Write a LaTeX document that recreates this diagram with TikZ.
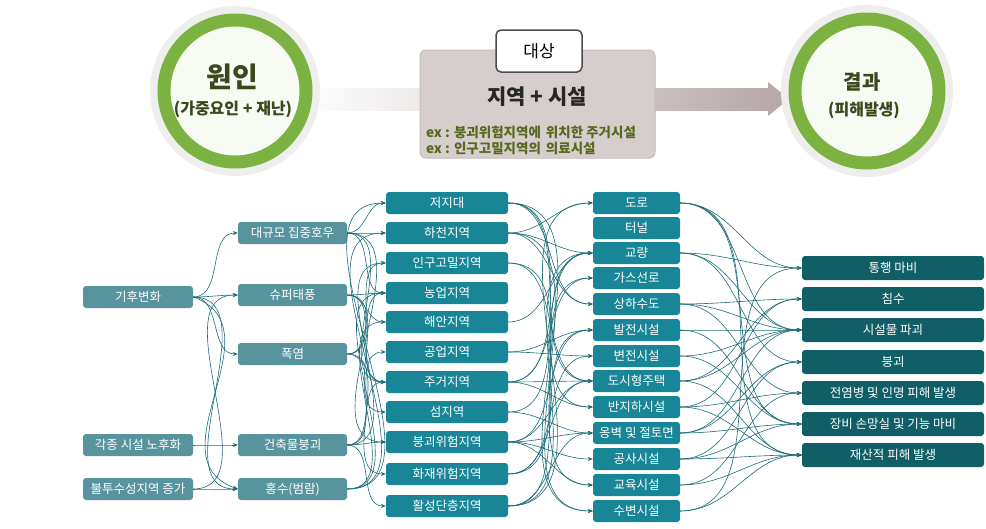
\documentclass[tikz,border=0pt]{standalone}
\usepackage{fontspec}
\setmainfont{Noto Sans CJK KR}
\usetikzlibrary{arrows.meta}
\definecolor{tealA}{RGB}{88,148,158}
\definecolor{tealB}{RGB}{24,134,150}
\definecolor{tealC}{RGB}{16,94,102}
\definecolor{lineC}{RGB}{28,108,118}
\definecolor{greenC}{RGB}{124,178,66}
\definecolor{innerC}{RGB}{248,250,244}
\definecolor{haloC}{RGB}{238,238,236}
\definecolor{olive}{RGB}{58,72,28}
\definecolor{boxC}{RGB}{214,205,205}
\definecolor{boxB}{RGB}{196,186,186}
\definecolor{barC}{RGB}{184,170,170}
\definecolor{exC}{RGB}{88,104,30}
\begin{document}
\begin{tikzpicture}[x=1pt,y=-1pt,
  box/.style={rounded corners=3pt, minimum height=22pt, inner sep=0pt, text=white,
    font=\fontsize{12.5}{14}\selectfont},
  colA/.style={box, fill=tealA, minimum width=110pt},
  colB/.style={box, fill=tealA, minimum width=109pt},
  colC/.style={box, fill=tealB, minimum width=122pt},
  colD/.style={box, fill=tealB, minimum width=87pt},
  colE/.style={box, fill=tealC, minimum width=182pt, minimum height=24pt},
  con/.style={draw=lineC, line width=0.6pt, -{Stealth[length=5pt,width=4pt]}},
  ring/.style={draw=greenC, line width=13pt, fill=innerC}]
\useasboundingbox (0,0) rectangle (986,528);

% ---- top section ----
\shade[left color=white, right color=barC] (300,88) rectangle (768,110);
\fill[barC] (768,82) -- (789,99) -- (768,116) -- cycle;

\fill[haloC] (235,91) circle (85pt);
\draw[ring] (235,91) circle (71pt);
\fill[haloC] (867,91) circle (86pt);
\draw[ring] (867,91) circle (72pt);

\node[font=\fontsize{28}{30}\selectfont\bfseries, text=olive] (cause) at (232,77) {원인};
\node[font=\fontsize{16}{18}\selectfont\bfseries, text=olive] (causesub) at (233,109) {(가중요인 + 재난)};
\node[font=\fontsize{20}{22}\selectfont\bfseries, text=olive] (res) at (862,82) {결과};
\node[font=\fontsize{16}{18}\selectfont\bfseries, text=olive] (ressub) at (864,110) {(피해발생)};

\draw[fill=boxC, draw=boxB, line width=1pt, rounded corners=6pt] (420,50) rectangle (655,158);
\node[draw=black!70, line width=1.5pt, fill=white, rounded corners=5pt, minimum width=86pt,
  minimum height=42pt, inner sep=0pt, font=\fontsize{17}{19}\selectfont] (tab) at (539,51) {대상};
\node[font=\fontsize{21}{23}\selectfont\bfseries, text=black!85] (tgt) at (537,97) {지역 + 시설};
\node[anchor=west, font=\fontsize{13.5}{15}\selectfont\bfseries, text=exC, inner sep=0pt] (ex1) at (426,132) {ex : 붕괴위험지역에\hspace{5pt}위치한 주거시설};
\node[anchor=west, font=\fontsize{13.5}{15}\selectfont\bfseries, text=exC, inner sep=0pt] (ex2) at (426,148) {ex : 인구고밀지역의\hspace{5pt}의료시설};

% ---- column 1 ----
\node[colA] (a1) at (138,297) {기후변화};
\node[colA] (a2) at (138,445) {각종 시설 노후화};
\node[colA] (a3) at (138,489) {불투수성지역 증가};

% ---- column 2 ----
\node[colB] (b1) at (292.5,233) {대규모 집중호우};
\node[colB] (b2) at (292.5,295) {슈퍼태풍};
\node[colB] (b3) at (292.5,354) {폭염};
\node[colB] (b4) at (292.5,445) {건축물붕괴};
\node[colB] (b5) at (292.5,489) {홍수(범람)};

% ---- column 3 ----
\node[colC] (r1) at (447,203) {저지대};
\node[colC] (r2) at (447,233) {하천지역};
\node[colC] (r3) at (447,263) {인구고밀지역};
\node[colC] (r4) at (447,293) {농업지역};
\node[colC] (r5) at (447,322) {해안지역};
\node[colC] (r6) at (447,352) {공업지역};
\node[colC] (r7) at (447,382) {주거지역};
\node[colC] (r8) at (447,412) {섬지역};
\node[colC] (r9) at (447,442) {붕괴위험지역};
\node[colC] (r10) at (447,474) {화재위험지역};
\node[colC] (r11) at (447,506) {활성단층지역};

% ---- column 4 ----
\node[colD] (f1) at (636.5,203) {도로};
\node[colD] (f2) at (636.5,228) {터널};
\node[colD] (f3) at (636.5,253) {교량};
\node[colD] (f4) at (636.5,278) {가스선로};
\node[colD] (f5) at (636.5,304) {상하수도};
\node[colD] (f6) at (636.5,330) {발전시설};
\node[colD] (f7) at (636.5,356) {변전시설};
\node[colD] (f8) at (636.5,381) {도시형주택};
\node[colD] (f9) at (636.5,407) {반지하시설};
\node[colD] (f10) at (636.5,433) {옹벽 및 절토면};
\node[colD] (f11) at (636.5,459) {공사시설};
\node[colD] (f12) at (636.5,485) {교육시설};
\node[colD] (f13) at (636.5,511) {수변시설};

% ---- column 5 ----
\node[colE] (e1) at (893,268) {통행 마비};
\node[colE] (e2) at (893,299) {침수};
\node[colE] (e3) at (893,330) {시설물 파괴};
\node[colE] (e4) at (893,362) {붕괴};
\node[colE] (e5) at (893,393) {전염병 및 인명 피해 발생};
\node[colE] (e6) at (893,424) {장비 손망실 및 기능 마비};
\node[colE] (e7) at (893,455) {재산적 피해 발생};

% ---- connectors ----
\foreach \s/\t in {a1/b1,a1/b2,a1/b3,a1/b5,a2/b4,a3/b5,a3/b2}
  \draw[con] (\s.east) to[out=0,in=180] (\t.west);
\draw[con] (a1.east) to[out=-20,in=160,looseness=1.2] (b5.west);

\foreach \s/\t in {b1/r1,b1/r2,b1/r4,b1/r7,b1/r9,
                   b2/r4,b2/r5,b2/r7,b2/r8,
                   b3/r3,b3/r4,b3/r7,b3/r10,
                   b4/r3,b4/r6,b4/r7,b4/r9,b4/r11,
                   b5/r1,b5/r2,b5/r4,b5/r5}
  \draw[con] (\s.east) to[out=0,in=180] (\t.west);

\foreach \s/\t in {r1/f5,r1/f8,r1/f9,r1/f13,
                   r2/f1,r2/f3,r2/f5,r2/f13,
                   r3/f8,r3/f12,
                   r5/f3,
                   r6/f6,r6/f7,
                   r7/f3,r7/f4,r7/f8,r7/f9,
                   r8/f3,r8/f10,
                   r9/f6,r9/f8,r9/f10,r9/f11,r9/f12,
                   r10/f4,r10/f7,r10/f8,
                   r11/f1,r11/f3,r11/f6,r11/f10}
  \draw[con] (\s.east) to[out=0,in=180] (\t.west);

\foreach \s/\t in {f1/e1,f1/e3,f1/e6,f1/e7,
                   f3/e1,f3/e3,f3/e4,
                   f5/e2,f5/e3,f5/e5,
                   f6/e3,f6/e6,
                   f7/e3,f7/e6,
                   f8/e2,f8/e3,f8/e7,
                   f9/e2,f9/e5,f9/e7,
                   f10/e3,f10/e4,f10/e6,
                   f11/e4,f11/e6,f11/e7,
                   f12/e5,f12/e7,
                   f13/e1,f13/e7}
  \draw[con] (\s.east) to[out=0,in=180] (\t.west);
\end{tikzpicture}
\end{document}
